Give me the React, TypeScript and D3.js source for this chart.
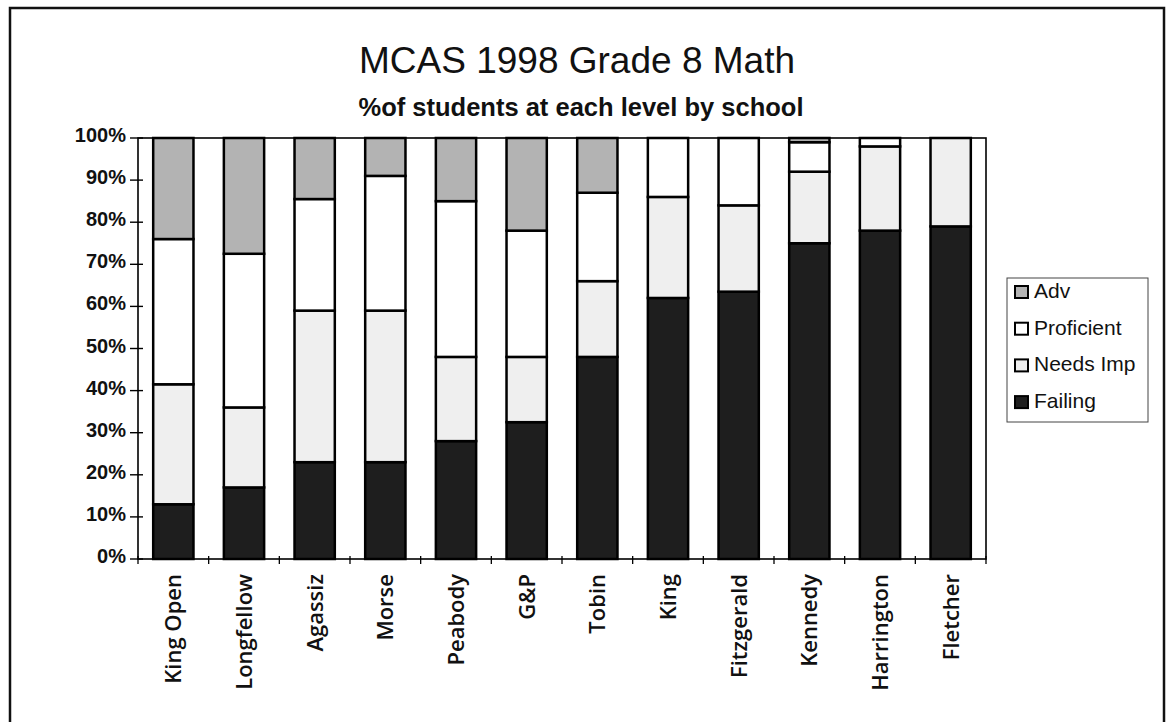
import React from 'react'
import * as d3 from 'd3'

const width = 1172
const height = 722
const margin = {top: 138, right: 186, bottom: 163, left: 138}

// ------- data ---------//
const schools = ['King Open', 'Longfellow', 'Agassiz', 'Morse', 'Peabody', 'G&P',
  'Tobin', 'King', 'Fitzgerald', 'Kennedy', 'Harrington', 'Fletcher']
const failing = [13, 17, 23, 23, 28, 32.5, 48, 62, 63.5, 75, 78, 79]
const needsImp = [28.5, 19, 36, 36, 20, 15.5, 18, 24, 20.5, 17, 20, 21]
const proficient = [34.5, 36.5, 26.5, 32, 37, 30, 21, 14, 16, 7, 2, 0]
const adv = [24, 27.5, 14.5, 9, 15, 22, 13, 0, 0, 1, 0, 0]

const levels = ['Failing', 'Needs Imp', 'Proficient', 'Adv']
const legendOrder = ['Adv', 'Proficient', 'Needs Imp', 'Failing']
const yTicks = [0, 10, 20, 30, 40, 50, 60, 70, 80, 90, 100]

const fills: Record<string, string> = {
  'Adv': '#b3b3b3',
  'Proficient': '#ffffff',
  'Needs Imp': '#efefef',
  'Failing': '#1e1e1e',
}

const rows = schools.map((s, i) => ({
  school: s,
  'Failing': failing[i],
  'Needs Imp': needsImp[i],
  'Proficient': proficient[i],
  'Adv': adv[i],
}))

export default function App() {
  const x0 = margin.left, x1 = width - margin.right
  const y0 = height - margin.bottom, y1 = margin.top

  const xScale = d3.scaleBand<string>()
    .domain(schools)
    .range([x0, x1])
    .paddingInner(0.43)
    .paddingOuter(0.215)

  const yScale = d3.scaleLinear()
    .domain([0, 100])
    .range([y0, y1])

  const series = d3.stack<any>().keys(levels)(rows)

  const step = xScale.step()
  const slotEdges = d3.range(schools.length + 1).map(i => x0 + i * step)

  const sans = 'Liberation Sans, Arial, Helvetica, sans-serif'

  return (
    <svg width={width} height={height} style={{position: 'absolute', left: 0, top: 0, background: '#fff'}}>
      {/* outer frame */}
      <rect x={10} y={8} width={1154} height={740} fill="none" stroke="#111" strokeWidth={2.5} />

      {/* titles */}
      <text x={577} y={73} textAnchor="middle" fontFamily={sans} fontSize={37} fill="#111">MCAS 1998 Grade 8 Math</text>
      <text x={581} y={116} textAnchor="middle" fontFamily={sans} fontSize={25.5} fontWeight="bold" fill="#111">%of students at each level by school</text>

      {/* bars */}
      {series.map(s => (
        <g key={s.key}>
          {s.map((d, i) => {
            const h = yScale(d[0]) - yScale(d[1])
            if (h <= 0) return null
            return (
              <rect key={i}
                x={xScale(schools[i])}
                y={yScale(d[1])}
                width={xScale.bandwidth()}
                height={h}
                fill={fills[s.key]}
                stroke="#000"
                strokeWidth={2.5} />
            )
          })}
        </g>
      ))}

      {/* plot frame */}
      <rect x={x0} y={y1} width={x1 - x0} height={y0 - y1} fill="none" stroke="#000" strokeWidth={1.6} />

      {/* y axis */}
      {yTicks.map(t => (
        <g key={t}>
          <line x1={x0 - 8} x2={x0 + 5} y1={yScale(t)} y2={yScale(t)} stroke="#000" strokeWidth={1.4} />
          <text x={126} y={yScale(t) + 4} textAnchor="end" fontFamily={sans} fontSize={20} fontWeight="bold" fill="#111">{t}%</text>
        </g>
      ))}

      {/* x axis */}
      {slotEdges.map((e, i) => (
        <line key={i} x1={e} x2={e} y1={y0 - 3} y2={y0 + 5} stroke="#000" strokeWidth={1.3} />
      ))}
      {schools.map(s => {
        const cx = (xScale(s) as number) + xScale.bandwidth() / 2
        return (
          <text key={s} transform={`translate(${cx + 8},574) rotate(-90)`} textAnchor="end"
            fontFamily="Open Sans, Noto Sans, sans-serif" fontSize={22} fontWeight={600} fill="#111">{s}</text>
        )
      })}

      {/* legend */}
      <rect x={1007} y={278} width={141} height={144} fill="#fff" stroke="#444" strokeWidth={1} />
      {legendOrder.map((k, i) => (
        <g key={k} transform={`translate(1015,${298 + i * 36.7})`}>
          <rect x={0} y={-12} width={13} height={12} fill={fills[k]} stroke="#000" strokeWidth={2} />
          <text x={19} y={0} fontFamily={sans} fontSize={21} fill="#111">{k}</text>
        </g>
      ))}
    </svg>
  )
}
